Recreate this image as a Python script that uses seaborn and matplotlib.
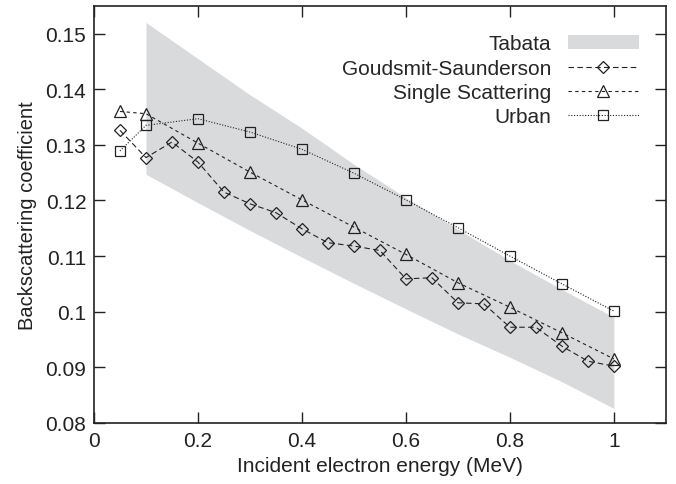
import numpy as np
import pandas as pd
import seaborn as sns
import matplotlib.pyplot as plt
from matplotlib.patches import Patch
from matplotlib.lines import Line2D

# Tabata band (lower / upper limits)
tabata_x = [0.1, 0.2, 0.3, 0.4, 0.5, 0.6, 0.7, 0.8, 0.9, 1.0]
tabata_lo = [0.1247, 0.1196, 0.1146, 0.1098, 0.1051, 0.1005, 0.0960, 0.0918, 0.0874, 0.0826]
tabata_hi = [0.1520, 0.1455, 0.1390, 0.1330, 0.1265, 0.1205, 0.1148, 0.1092, 0.1040, 0.0990]

# Goudsmit-Saunderson
gs_x = [0.05, 0.1, 0.15, 0.2, 0.25, 0.3, 0.35, 0.4, 0.45, 0.5,
        0.55, 0.6, 0.65, 0.7, 0.75, 0.8, 0.85, 0.9, 0.95, 1.0]
gs_y = [0.1326, 0.1277, 0.1305, 0.1269, 0.1215, 0.1194, 0.1178, 0.1149, 0.1124, 0.1118,
        0.1110, 0.1059, 0.1061, 0.1016, 0.1014, 0.0972, 0.0972, 0.0938, 0.0911, 0.0902]

# Single Scattering
ss_x = [0.05, 0.1, 0.2, 0.3, 0.4, 0.5, 0.6, 0.7, 0.8, 0.9, 1.0]
ss_y = [0.1360, 0.1356, 0.1303, 0.1251, 0.1201, 0.1152, 0.1103, 0.1052, 0.1008, 0.0962, 0.0915]

# Urban
ur_x = [0.05, 0.1, 0.2, 0.3, 0.4, 0.5, 0.6, 0.7, 0.8, 0.9, 1.0]
ur_y = [0.1289, 0.1335, 0.1347, 0.1323, 0.1292, 0.1249, 0.1201, 0.1151, 0.1100, 0.1050, 0.1001]

sns.set_theme(style="ticks")
plt.rcParams['font.family'] = ['Liberation Sans', 'DejaVu Sans']
plt.rcParams['font.size'] = 15

fig = plt.figure(figsize=(6.76, 4.85), dpi=100)
ax = fig.add_axes([0.139, 0.126, 0.846, 0.86])

band_col = '#d9dadc'
line_col = '#222222'

ax.fill_between(tabata_x, tabata_lo, tabata_hi, color=band_col, linewidth=0)

# marker / dash settings per series
styles = {
    'gs': dict(marker='D', ms=6.3, ls=(0, (5, 3))),
    'ss': dict(marker='^', ms=8.3, ls=(0, (3, 3))),
    'ur': dict(marker='s', ms=7, ls=(0, (1, 1.5))),
}

common = dict(color=line_col, linewidth=0.8, markerfacecolor='none',
              markeredgecolor=line_col, markeredgewidth=0.9, ax=ax, legend=False)
for key, xs, ys in [('gs', gs_x, gs_y), ('ss', ss_x, ss_y), ('ur', ur_x, ur_y)]:
    st = styles[key]
    sns.lineplot(x=xs, y=ys, marker=st['marker'], markersize=st['ms'],
                 linestyle=st['ls'], **common)

ax.set_xlim(0, 1.1)
ax.set_ylim(0.08, 0.155)
ax.set_xticks([0, 0.2, 0.4, 0.6, 0.8, 1.0])
ax.set_xticklabels(['0', '0.2', '0.4', '0.6', '0.8', '1'])
ax.set_yticks([0.08, 0.09, 0.1, 0.11, 0.12, 0.13, 0.14, 0.15])
ax.set_yticklabels(['0.08', '0.09', '0.1', '0.11', '0.12', '0.13', '0.14', '0.15'])
ax.tick_params(direction='in', length=8, width=1, top=True, right=True,
               labelsize=15, colors='#222222', labelcolor='#222222')
ax.tick_params(axis='x', pad=6)
ax.tick_params(axis='y', pad=5.5)
for s in ax.spines.values():
    s.set_linewidth(1.2)
    s.set_color('#222222')

ax.set_xlabel('Incident electron energy (MeV)', fontsize=15, color='#222222', labelpad=4)
ax.set_ylabel('Backscattering coefficient', fontsize=14.5, color='#222222', labelpad=6)

handles = [Patch(facecolor=band_col, edgecolor='none')]
for key in ['gs', 'ss', 'ur']:
    st = styles[key]
    handles.append(Line2D([], [], color=line_col, lw=0.8, ls=st['ls'], marker=st['marker'],
                          ms=st['ms'], mfc='none', mec=line_col, mew=0.9))
labels = ['Tabata', 'Goudsmit-Saunderson', 'Single Scattering', 'Urban']
ax.legend(handles, labels, loc='upper right', frameon=False, markerfirst=False,
          handlelength=3.4, handleheight=0.62, labelspacing=0.26, fontsize=15,
          handletextpad=0.8, bbox_to_anchor=(0.985, 0.977), numpoints=1)

plt.savefig('out.png', dpi=100)
